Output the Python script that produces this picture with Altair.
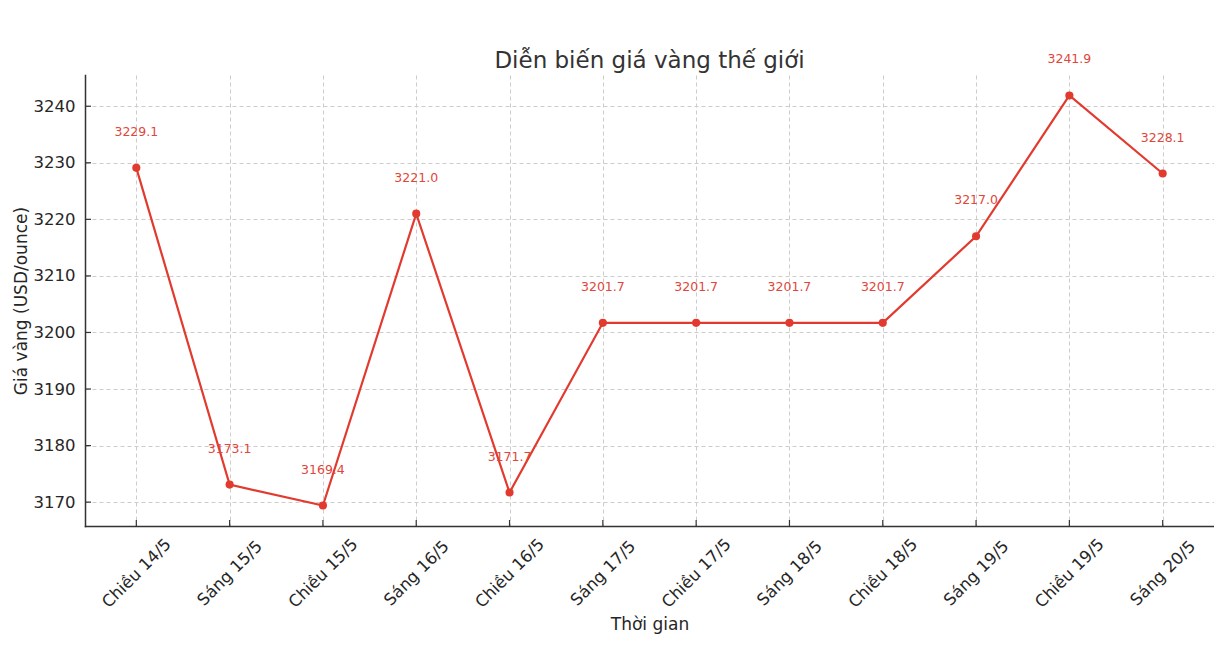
import altair as alt
import pandas as pd

labels = ["Chiều 14/5", "Sáng 15/5", "Chiều 15/5", "Sáng 16/5", "Chiều 16/5", "Sáng 17/5",
          "Chiều 17/5", "Sáng 18/5", "Chiều 18/5", "Sáng 19/5", "Chiều 19/5", "Sáng 20/5"]
prices = [3229.1, 3173.1, 3169.4, 3221.0, 3171.7, 3201.7,
          3201.7, 3201.7, 3201.7, 3217.0, 3241.9, 3228.1]
y_ticks = [3170, 3180, 3190, 3200, 3210, 3220, 3230, 3240]

FONT = "DejaVu Sans"
RED = "#e23a2e"
W, H = 1129, 451

df = pd.DataFrame({"t": labels, "p": prices})
ydf = pd.DataFrame({"v": y_ticks})

xscale = alt.Scale(type="point", padding=0.55, domain=labels)
yscale = alt.Scale(domain=[3165.78, 3245.52], zero=False, nice=False)

x_enc = alt.X("t:N", scale=xscale, sort=labels, title="Thời gian",
              axis=alt.Axis(labelAngle=-45, labelAlign="center", labelBaseline="middle",
                            labelFontSize=16.5, labelFont=FONT, labelColor="#262626",
                            labelPadding=47, ticks=False, grid=True, domainColor="#333333",
                            domainWidth=1.5, gridDash=[4, 3], gridColor="#cccccc",
                            titleFontSize=17, titleFont=FONT, titleFontWeight="normal",
                            titleColor="#262626", titlePadding=6))
y_enc = alt.Y("p:Q", scale=yscale, title="Giá vàng (USD/ounce)",
              axis=alt.Axis(values=y_ticks, format="d", labelFontSize=16.5, labelFont=FONT,
                            labelColor="#262626", labelPadding=10, ticks=False,
                            domainColor="#333333", domainWidth=1.5, gridDash=[4, 3],
                            gridColor="#cccccc", titleFontSize=17, titleFont=FONT,
                            titleFontWeight="normal", titleColor="#262626", titlePadding=3))

base = alt.Chart(df)
line = base.mark_line(color=RED, strokeWidth=2.2).encode(x=x_enc, y=y_enc)
pts = base.mark_point(filled=True, color=RED, size=66, opacity=1).encode(x="t:N", y="p:Q")
txt = base.mark_text(color="#e0463a", fontSize=12.5, font=FONT, dy=-36, baseline="middle").encode(
    x="t:N", y="p:Q", text=alt.Text("p:Q", format=".1f"))

xt = base.mark_rule(color="#333333", strokeWidth=1.2).encode(
    x="t:N", y=alt.value(H), y2=alt.value(H - 6))
yt = alt.Chart(ydf).mark_rule(color="#333333", strokeWidth=1.2).encode(
    y=alt.Y("v:Q", scale=yscale), x=alt.value(0), x2=alt.value(6))

chart = alt.layer(line, xt, yt, pts, txt).properties(
    width=W, height=H,
    title=alt.TitleParams("Diễn biến giá vàng thế giới", fontSize=23, font=FONT,
                          fontWeight="normal", color="#333333", anchor="middle",
                          frame="group", offset=-20),
    autosize=alt.AutoSizeParams(type="none"),
    padding={"left": 77, "top": 67, "right": 0, "bottom": 120},
).configure_view(stroke=None).configure_axis(domainCap="square")

chart.save("out.html", embed_options={"renderer": "svg", "actions": False})
